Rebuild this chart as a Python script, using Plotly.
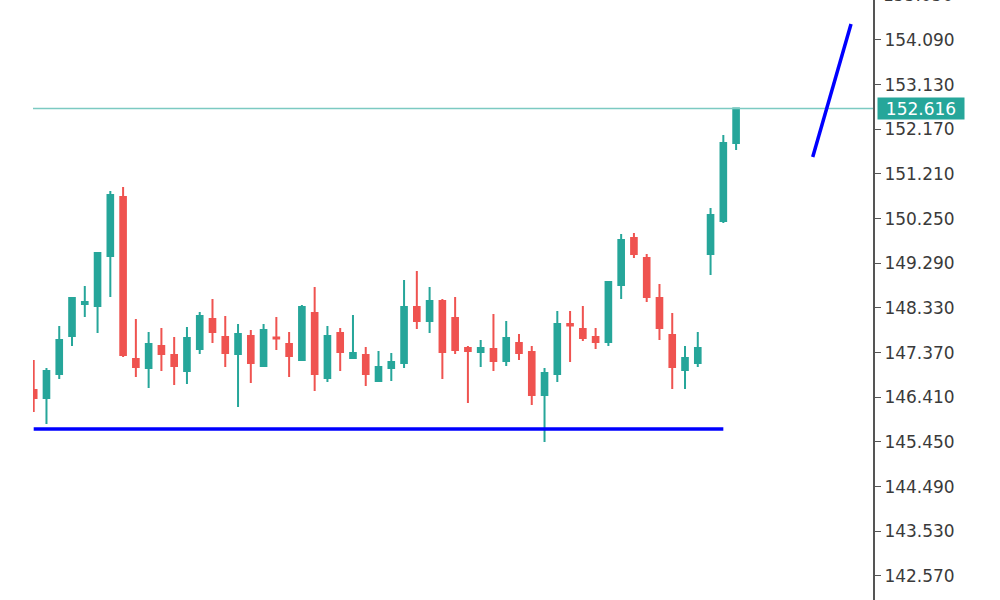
import plotly.graph_objects as go

# candle index positions
idx = list(range(56))

opens = [146.568, 146.396, 146.911, 147.728, 148.416, 148.373, 149.447, 150.715, 147.234, 147.040,
         147.513, 147.320, 146.976, 147.449, 148.093, 147.707, 147.341, 147.728, 147.083, 147.696,
         147.556, 147.212, 148.222, 146.825, 147.793, 147.255, 147.320, 146.761, 147.040, 147.148,
         148.351, 148.050, 148.480, 148.115, 147.470, 147.384, 147.449, 147.191, 147.578, 147.384,
         146.460, 146.911, 147.986, 147.878, 147.707, 147.599, 148.824, 149.834, 149.404, 148.545,
         147.750, 146.997, 147.148, 149.490, 150.199, 151.876]
highs = [147.212, 147.040, 147.943, 148.566, 148.803, 149.520, 150.844, 150.930, 148.093, 147.814,
         147.900, 147.707, 147.921, 148.244, 148.523, 148.158, 147.986, 147.857, 147.986, 148.136,
         147.814, 148.394, 148.781, 147.943, 147.900, 148.179, 147.492, 147.406, 147.363, 148.932,
         149.125, 148.781, 148.523, 148.566, 147.513, 147.642, 148.201, 148.050, 147.771, 147.513,
         147.040, 148.265, 148.265, 148.373, 147.900, 148.910, 149.920, 149.942, 149.490, 148.846,
         148.222, 147.513, 147.814, 150.479, 152.048, 152.616]
lows = [146.095, 145.837, 146.804, 147.513, 148.136, 147.793, 148.566, 147.277, 146.847, 146.611,
        146.976, 146.675, 146.696, 147.341, 147.578, 147.062, 146.202, 146.718, 147.062, 147.427,
        146.847, 147.200, 146.546, 146.739, 146.976, 147.250, 146.654, 146.739, 146.761, 147.040,
        147.878, 147.793, 146.804, 147.341, 146.288, 147.062, 146.976, 147.083, 147.212, 146.245,
        145.450, 146.739, 147.169, 147.621, 147.449, 147.513, 148.523, 149.404, 148.459, 147.642,
        146.589, 146.589, 147.062, 149.039, 150.157, 151.725]
closes = [146.396, 146.976, 147.642, 148.545, 148.459, 149.512, 150.758, 147.320, 147.062, 147.556,
          147.341, 147.083, 147.685, 148.158, 147.814, 147.363, 147.771, 147.148, 147.857, 147.674,
          147.298, 148.351, 146.911, 147.728, 147.384, 147.363, 146.911, 147.062, 147.169, 148.351,
          148.050, 148.480, 147.384, 147.427, 147.406, 147.470, 147.191, 147.685, 147.363, 146.460,
          146.933, 147.986, 147.954, 147.685, 147.599, 148.889, 149.791, 149.490, 148.566, 147.900,
          147.062, 147.255, 147.470, 150.328, 151.876, 152.616]

current_price = 152.616
support_x = [0, 54]
support_y = [145.729, 145.729]
trend_x = [61, 64]
trend_y = [151.575, 154.433]

tick_vals = [142.57 + 0.96 * k for k in range(13)]
tick_text = [f"{v:.3f}" for v in tick_vals]
top_hidden_tick = 155.05

Y0, Y1 = 142.054, 154.949
X0, X1 = -0.055, 65.72

GREEN = "#26a69a"
RED = "#ef5350"
FONT = "DejaVu Sans"

fig = go.Figure()
fig.add_trace(go.Candlestick(
    x=idx, open=opens, high=highs, low=lows, close=closes,
    increasing=dict(line=dict(color=GREEN, width=2), fillcolor=GREEN),
    decreasing=dict(line=dict(color=RED, width=2), fillcolor=RED),
    whiskerwidth=0, showlegend=False, hoverinfo="skip",
))
fig.add_trace(go.Scatter(
    x=[X0, X1], y=[current_price, current_price], mode="lines",
    line=dict(color="#7ccac2", width=1.4), showlegend=False, hoverinfo="skip",
))
fig.add_trace(go.Scatter(
    x=support_x, y=support_y, mode="lines",
    line=dict(color="#0000ff", width=3.5), showlegend=False, hoverinfo="skip",
))
fig.add_trace(go.Scatter(
    x=trend_x, y=trend_y, mode="lines",
    line=dict(color="#0000ff", width=3.5), showlegend=False, hoverinfo="skip",
))

fig.add_annotation(
    x=1, xref="paper", y=current_price, yref="y", xanchor="left", yanchor="middle",
    xshift=4, text=f"{current_price:.3f}", showarrow=False, width=84, height=19,
    align="center", valign="middle",
    font=dict(family=FONT, size=17, color="white"), bgcolor=GREEN, borderpad=1,
)
fig.add_annotation(
    x=1, xref="paper", y=(top_hidden_tick - Y0) / (Y1 - Y0), yref="paper",
    xanchor="left", yanchor="middle", xshift=8, text=f"{top_hidden_tick:.3f}",
    showarrow=False, font=dict(family=FONT, size=17, color="#3a3a3a"),
)

fig.update_layout(
    width=1000, height=600,
    margin=dict(l=33, r=127, t=0, b=0),
    paper_bgcolor="white", plot_bgcolor="white",
    boxgap=0.37,
    xaxis=dict(range=[X0, X1], visible=False, rangeslider=dict(visible=False),
               showgrid=False, zeroline=False),
    yaxis=dict(range=[Y0, Y1], side="right", showgrid=False, zeroline=False,
               showline=True, linecolor="#555555", linewidth=2,
               ticks="outside", ticklen=6, tickcolor="#555555", tickwidth=1,
               tickvals=tick_vals, ticktext=tick_text,
               tickfont=dict(family=FONT, size=17, color="#3a3a3a")),
)

fig.write_html(
    "out.html",
    config={"displayModeBar": False},
    post_script="document.body.style.margin='0';document.body.style.overflow='hidden';",
)
